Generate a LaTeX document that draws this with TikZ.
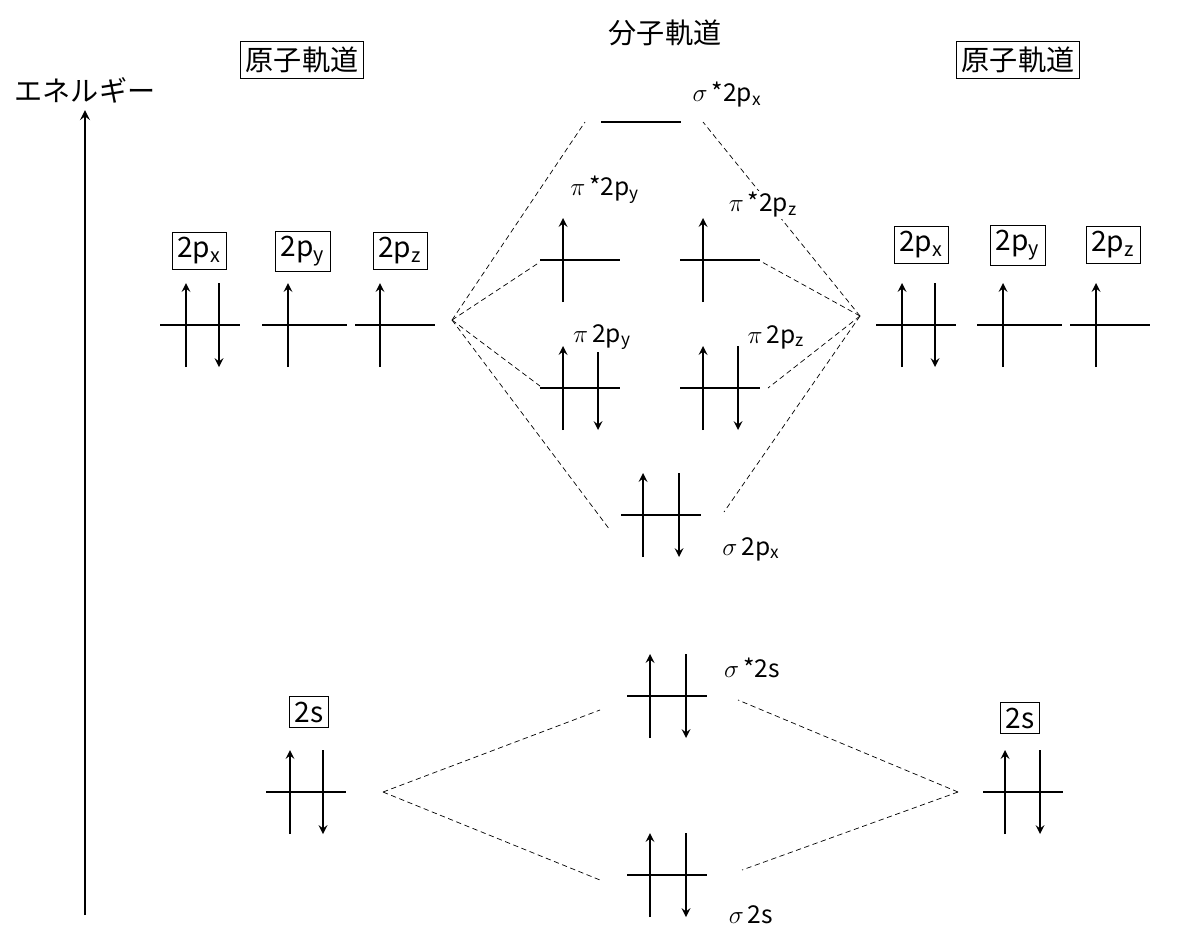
\documentclass[tikz,border=0pt]{standalone}
\usepackage{fontspec}
\setmainfont{Noto Sans CJK JP}
\usetikzlibrary{arrows, positioning}
\begin{document}
\begin{tikzpicture}[x=0.02cm, y=-0.02cm]
		\tikzstyle{Box} = [rectangle, draw=black, inner sep=3pt, font=\fontsize{16}{18}\selectfont]
		\tikzstyle{Label} = [font=\fontsize{14}{16}\selectfont, fill=white, inner sep=1pt]
		\tikzstyle{Level} = [line width=1.2pt]
		\tikzstyle{arrow} = [line width=1.2pt,->,>=stealth]
		\tikzstyle{Link} = [densely dashed, line width=0.4pt]
		\newcommand{\lvl}[3]{\draw[Level] (#1-40,#2) -- (#1+40,#2);}
		\newcommand{\up}[2]{\draw[arrow] (#1,#2+42) -- (#1,#2-42);}
		\newcommand{\dn}[2]{\draw[arrow] (#1,#2-42) -- (#1,#2+42);}
		\useasboundingbox (0,0) rectangle (1200,941);

		% energy axis
		\coordinate (e0) at (85,915);
		\coordinate (e1) at (85,110);
		\draw[arrow, line width=1.5pt] (e0) -- (e1);
		\node (energy) [font=\fontsize{16}{18}\selectfont] at (85,90) {エネルギー};
		\node (aoL) [Box] at (302,60) {原子軌道};
		\node (aoR) [Box] at (1018,60) {原子軌道};
		\node (mo) [font=\fontsize{16}{18}\selectfont] at (665,33) {分子軌道};

		% atomic orbitals, left
		\node (pxL) [Box] at (199,251) {2p\textsubscript{x}};
		\node (pyL) [Box] at (303,251) {2p\textsubscript{y}};
		\node (pzL) [Box] at (400,251) {2p\textsubscript{z}};
		\draw[Level] (160,325) -- (240,325);
		\draw[Level] (262,325) -- (347,325);
		\draw[Level] (355,325) -- (435,325);
		\up{186}{325} \dn{219}{325} \up{288}{325} \up{380}{325}
		\node (sL) [Box] at (309,712) {2s};
		\lvl{306}{792}{} \up{290}{792} \dn{323}{792}

		% atomic orbitals, right
		\node (pxR) [Box] at (921,245) {2p\textsubscript{x}};
		\node (pyR) [Box] at (1018,245) {2p\textsubscript{y}};
		\node (pzR) [Box] at (1113,245) {2p\textsubscript{z}};
		\draw[Level] (876,325) -- (956,325);
		\draw[Level] (977,325) -- (1062,325);
		\draw[Level] (1070,325) -- (1150,325);
		\up{902}{325} \dn{935}{325} \up{1003}{325} \up{1096}{325}
		\node (sR) [Box] at (1020,718) {2s};
		\lvl{1023}{792}{} \up{1005}{792} \dn{1040}{792}

		% correlation lines
		\coordinate (pL) at (452,320);
		\coordinate (pR) at (860,316);
		\coordinate (sl) at (383,792);
		\coordinate (sr) at (958,792);
		\draw[Link] (pL) -- (585,122);
		\draw[Link] (pL) -- (540,262);
		\draw[Link] (pL) -- (540,386);
		\draw[Link] (pL) -- (610,530);
		\draw[Link] (pR) -- (703,122);
		\draw[Link] (pR) -- (762,262);
		\draw[Link] (pR) -- (768,388);
		\draw[Link] (pR) -- (724,512);
		\draw[Link] (sl) -- (600,710);
		\draw[Link] (sl) -- (600,880);
		\draw[Link] (sr) -- (738,700);
		\draw[Link] (sr) -- (742,870);

		% molecular orbitals
		\lvl{641}{122}{} \node (ss2px) [Label] at (727,95) {$\sigma$\,*2p\textsubscript{x}};
		\lvl{580}{260}{} \up{563}{260} \node (pp2py) [Label] at (605,190) {$\pi$\,*2p\textsubscript{y}};
		\lvl{720}{260}{} \up{703}{260} \node (pp2pz) [Label] at (763,205) {$\pi$\,*2p\textsubscript{z}};
		\lvl{580}{388}{} \up{563}{388} \dn{598}{388} \node (p2py) [Label] at (602,337) {$\pi$\,2p\textsubscript{y}};
		\lvl{720}{388}{} \up{703}{388} \dn{738}{388} \node (p2pz) [Label] at (776,337) {$\pi$\,2p\textsubscript{z}};
		\lvl{661}{515}{} \up{643}{515} \dn{679}{515} \node (s2px) [Label] at (751,549) {$\sigma$\,2p\textsubscript{x}};
		\lvl{667}{696}{} \up{650}{696} \dn{686}{696} \node (ss2s) [Label] at (752,668) {$\sigma$\,*2s};
		\lvl{667}{875}{} \up{650}{875} \dn{686}{875} \node (s2s) [Label] at (751,915) {$\sigma$\,2s};
\end{tikzpicture}
\end{document}
